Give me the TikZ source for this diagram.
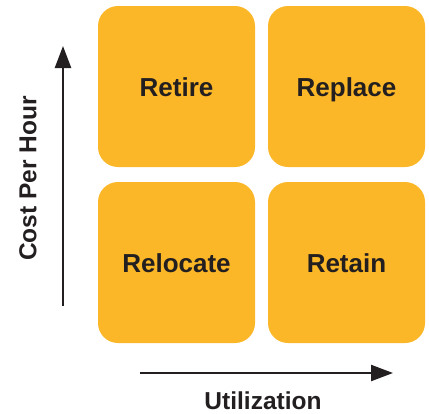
\documentclass[tikz,border=0pt]{standalone}
\usepackage{fontspec}
\setmainfont{Liberation Sans}
\usetikzlibrary{arrows.meta,positioning}
\definecolor{quadorange}{RGB}{251,183,39}
\definecolor{quadtext}{RGB}{35,31,32}

\begin{document}
\begin{tikzpicture}[x=1pt,y=-1pt,
        quad/.style={fill=quadorange,rounded corners=20pt,minimum width=157pt,minimum height=161pt,
                     inner sep=0pt,outer sep=0pt,text height=19pt,text depth=0pt,
                     text=quadtext,font=\fontsize{26}{30}\selectfont\bfseries},
        axis/.style={line width=2.4pt,draw=quadtext,-{Triangle[length=22pt,width=16pt]}},
        axislabel/.style={text=quadtext,inner sep=0pt,font=\fontsize{24.5}{28}\selectfont\bfseries}]
   \useasboundingbox (0,0) rectangle (429,413);
   \node[quad] (retire) at (176.5,86.5) {Retire};
   \node[quad] (replace) [right=13pt of retire] {Replace};
   \node[quad] (relocate) [below=15pt of retire] {Relocate};
   \node[quad] (retain) [right=13pt of relocate] {Retain};

   % axes
   \coordinate (ybot) at (63,306);
   \coordinate (ytop) at (63,46);
   \coordinate (xleft) at (140,373);
   \coordinate (xright) at (393,373);
   \draw[axis] (ybot) -- (ytop);
   \draw[axis] (xleft) -- (xright);

   \node[axislabel,rotate=90] (cost) at (28,178.5) {Cost Per Hour};
   \node[axislabel,text depth=0pt,anchor=base] (util) at (263,409) {Utilization};
\end{tikzpicture}
\end{document}
